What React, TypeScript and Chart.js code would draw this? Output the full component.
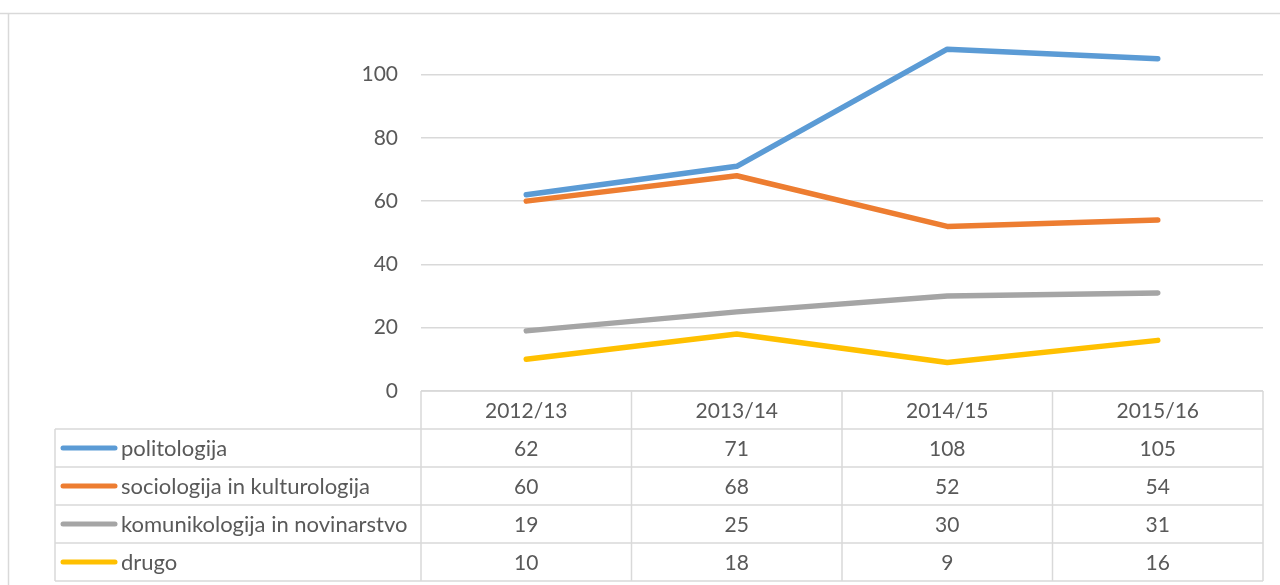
import React, { useEffect, useRef } from "react";
import { Chart, registerables } from "chart.js";

Chart.register(...registerables);

const categories = ["2012/13", "2013/14", "2014/15", "2015/16"];
const seriesNames = [
  "politologija",
  "sociologija in kulturologija",
  "komunikologija in novinarstvo",
  "drugo",
];
const politologija = [62, 71, 108, 105];
const sociologija = [60, 68, 52, 54];
const komunikologija = [19, 25, 30, 31];
const drugo = [10, 18, 9, 16];
const yTicks = [0, 20, 40, 60, 80, 100];

const colors = ["#5B9BD5", "#ED7D31", "#A5A5A5", "#FFC000"];
const FONT = "Lato, 'Open Sans', sans-serif";
const TEXT = "#595959";
const GRID = "#d9d9d9";

const tablePlugin = {
  id: "dataTable",
  afterDraw(chart: any) {
    const ctx = chart.ctx;
    const area = chart.chartArea;
    const xs = chart.scales.x;
    const left = area.left;
    const right = area.right;
    const top = area.bottom;
    const rowH = 38;
    const labelLeft = 55;
    const colW = (right - left) / categories.length;
    const rows = chart.data.datasets.length;
    const bottom = top + rowH * (rows + 1);

    ctx.save();
    ctx.strokeStyle = GRID;
    ctx.lineWidth = 1.5;
    ctx.beginPath();
    ctx.moveTo(0, 13.5);
    ctx.lineTo(1280, 13.5);
    ctx.moveTo(8.5, 13.5);
    ctx.lineTo(8.5, 585);
    ctx.stroke();

    ctx.beginPath();
    ctx.moveTo(left, top);
    ctx.lineTo(right, top);
    for (let r = 1; r <= rows + 1; r++) {
      const y = top + r * rowH;
      ctx.moveTo(labelLeft, y);
      ctx.lineTo(right, y);
    }
    ctx.moveTo(labelLeft, top + rowH);
    ctx.lineTo(labelLeft, bottom);
    for (let c = 0; c <= categories.length; c++) {
      const x = left + c * colW;
      ctx.moveTo(x, top);
      ctx.lineTo(x, bottom);
    }
    ctx.stroke();

    ctx.fillStyle = TEXT;
    ctx.font = `21px ${FONT}`;
    ctx.textBaseline = "middle";
    ctx.textAlign = "center";
    categories.forEach((c, i) => {
      ctx.fillText(c, xs.getPixelForValue(i), top + rowH / 2 + 1);
    });

    chart.data.datasets.forEach((ds: any, r: number) => {
      const cy = top + rowH * (r + 1) + rowH / 2;
      ctx.strokeStyle = ds.borderColor;
      ctx.lineWidth = 5;
      ctx.lineCap = "round";
      ctx.beginPath();
      ctx.moveTo(63, cy);
      ctx.lineTo(115, cy);
      ctx.stroke();
      ctx.textAlign = "left";
      ctx.fillStyle = TEXT;
      ctx.font = `22px ${FONT}`;
      ctx.fillText(ds.label, 121, cy + 1);
      ctx.font = `21px ${FONT}`;
      ctx.textAlign = "center";
      ds.data.forEach((v: number, i: number) => {
        ctx.fillText(String(v), xs.getPixelForValue(i), cy + 1);
      });
    });
    ctx.restore();
  },
};

export default function App() {
  const ref = useRef<HTMLCanvasElement | null>(null);
  useEffect(() => {
    if (!ref.current) return;
    const all = [politologija, sociologija, komunikologija, drugo];
    const chart = new Chart(ref.current, {
      type: "line",
      data: {
        labels: categories,
        datasets: all.map((d, i) => ({
          label: seriesNames[i],
          data: d,
          borderColor: colors[i],
          backgroundColor: colors[i],
          borderWidth: 5.5,
          borderCapStyle: "round",
          borderJoinStyle: "round",
          pointRadius: 0,
          tension: 0,
          order: all.length - i,
        })),
      },
      options: {
        responsive: false,
        animation: false,
        devicePixelRatio: 1,
        layout: { padding: { top: 11, bottom: 194, left: 0, right: 17 } },
        plugins: { legend: { display: false }, tooltip: { enabled: false } },
        scales: {
          x: { display: false, offset: true },
          y: {
            min: 0,
            max: 112.3,
            border: { display: false },
            grid: { color: GRID, lineWidth: 1.5, drawTicks: false },
            afterBuildTicks: (scale: any) => {
              scale.ticks = yTicks.map((v) => ({ value: v }));
            },
            afterFit: (scale: any) => {
              scale.width = 421;
            },
            ticks: {
              padding: 23,
              color: TEXT,
              font: { family: FONT, size: 21 },
            },
          },
        },
      },
      plugins: [tablePlugin],
    });
    return () => chart.destroy();
  }, []);
  return (
    <div style={{ position: "fixed", left: 0, top: 0, width: 1280, height: 585, background: "#fff" }}>
      <canvas ref={ref} width={1280} height={585} />
    </div>
  );
}
